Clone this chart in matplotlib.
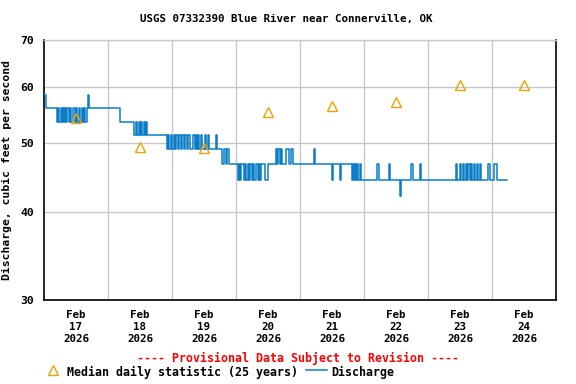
import matplotlib
matplotlib.use("Agg")
import matplotlib.pyplot as plt
from matplotlib.lines import Line2D
from matplotlib.ticker import FixedLocator, NullFormatter

# 数据：小时数（自 2026-02-17 00:00 起）与流量（cfs），阶梯式
hours = [
    0, 0.75, 5.0, 5.25, 5.75, 6.25, 6.75, 7.0, 7.5, 8.0, 8.25, 8.75, 9.5, 9.75,
    10.0, 11.0, 11.5, 12.0, 12.5, 13.0, 13.5, 14.25, 14.5, 15.0, 15.5, 16.0,
    16.5, 17.0, 28.5,
    33.75, 34.5, 35.0, 35.5, 36.0, 36.5, 36.75, 37.5, 38.0, 38.25, 38.75,
    46.0, 46.5, 47.0, 47.5, 48.0, 48.75, 49.0, 49.5, 50.25, 50.5, 51.5, 51.75,
    52.5, 52.75, 53.5, 54.0, 54.75, 55.75, 56.5, 57.0, 57.25, 57.75, 58.0,
    58.75, 59.25, 60.25, 60.75, 61.5, 61.75,
    64.5, 65.0, 66.75, 67.5, 68.25, 68.5, 69.25,
    72.75, 73.0, 73.5, 73.75, 75.0, 75.25, 75.75, 76.5, 76.75, 77.25, 78.0,
    78.25, 78.75, 79.5, 80.25, 80.5, 81.0, 81.25, 82.75, 84.0,
    87.0, 87.5, 87.75, 88.5, 88.75, 89.25, 90.75, 91.75, 92.5, 93.25,
    101.25, 101.5, 108.0, 108.25, 111.0, 111.5,
    115.5, 115.75, 116.25, 116.5, 117.0, 117.25, 117.75, 118.5, 119.0,
    125.0, 125.5, 129.25, 129.75, 133.5, 133.75, 137.75, 138.25, 141.0, 141.5,
    154.5, 155.0, 156.0, 156.5, 157.25, 157.5, 158.25, 158.75, 159.0, 159.75,
    160.25, 160.5, 161.25, 161.75, 162.5, 162.75, 163.5, 164.0,
    166.5, 167.25, 168.75, 169.75, 173.5,
]
discharge = [
    58.6, 56.0, 53.6, 56.0, 53.6, 56.0, 53.6, 56.0, 53.6, 56.0, 53.6, 56.0, 53.6, 56.0,
    53.6, 56.0, 53.6, 56.0, 53.6, 56.0, 53.6, 56.0, 53.6, 56.0, 53.6, 56.0,
    58.6, 56.0, 53.6,
    51.4, 53.6, 51.4, 53.6, 51.4, 53.6, 51.4, 53.6, 51.4, 53.6, 51.4,
    49.1, 51.4, 49.1, 51.4, 49.1, 51.4, 49.1, 51.4, 49.1, 51.4, 49.1, 51.4,
    49.1, 51.4, 49.1, 51.4, 49.1, 51.4, 49.1, 51.4, 49.1, 51.4, 49.1,
    51.4, 49.1, 51.4, 49.1, 51.4, 49.1,
    51.4, 49.1, 46.7, 49.1, 46.7, 49.1, 46.7,
    44.3, 46.7, 44.3, 46.7, 44.3, 46.7, 44.3, 46.7, 44.3, 46.7, 44.3,
    46.7, 44.3, 46.7, 44.3, 46.7, 44.3, 46.7, 44.3, 46.7,
    49.1, 46.7, 49.1, 46.7, 49.1, 46.7, 49.1, 46.7, 49.1, 46.7,
    49.1, 46.7, 44.3, 46.7, 44.3, 46.7,
    44.3, 46.7, 44.3, 46.7, 44.3, 46.7, 44.3, 46.7, 44.3,
    46.7, 44.3, 46.7, 44.3, 42.1, 44.3, 46.7, 44.3, 46.7, 44.3,
    46.7, 44.3, 46.7, 44.3, 46.7, 44.3, 46.7, 44.3, 46.7, 44.3,
    46.7, 44.3, 46.7, 44.3, 46.7, 44.3, 46.7, 44.3,
    46.7, 44.3, 46.7, 44.3, 44.3,
]

# 每日中位数（25 年），画在每天中午
median_hours = [12, 36, 60, 84, 108, 132, 156, 180]
median_vals = [54.2, 49.4, 49.2, 55.4, 56.4, 57.2, 60.4, 60.4]

day_labels = ["Feb\n17\n2026", "Feb\n18\n2026", "Feb\n19\n2026", "Feb\n20\n2026",
              "Feb\n21\n2026", "Feb\n22\n2026", "Feb\n23\n2026", "Feb\n24\n2026"]
y_ticks = [30, 40, 50, 60, 70]

FONT = "DejaVu Sans Mono"
BLUE = "#0a7dc8"
ORANGE = "#f5a000"
GRID = "#c8c8c8"

fig = plt.figure(figsize=(5.76, 3.84), dpi=100)
ax = fig.add_axes([44 / 576, 1 - 300 / 384, 512 / 576, 260 / 384])

ax.plot(hours, discharge, drawstyle="steps-post", color=BLUE, lw=1.1, zorder=3)
ax.plot(median_hours, median_vals, linestyle="none", marker="^", markersize=7.5,
        markerfacecolor="none", markeredgecolor=ORANGE, markeredgewidth=1.0, zorder=4)

ax.set_yscale("log")
ax.set_ylim(30, 70)
ax.set_xlim(0, 192)

ax.yaxis.set_major_locator(FixedLocator(y_ticks))
ax.yaxis.set_minor_locator(FixedLocator([]))
ax.yaxis.set_minor_formatter(NullFormatter())
ax.set_yticklabels([str(v) for v in y_ticks], fontfamily=FONT, fontweight="bold", fontsize=8.2)

ax.set_xticks(median_hours)
ax.set_xticklabels(day_labels, fontfamily=FONT, fontweight="bold", fontsize=7.8, linespacing=1.25)
ax.set_xticks([24 * k for k in range(1, 8)], minor=True)

ax.tick_params(axis="both", which="both", length=0)
ax.tick_params(axis="y", pad=7)
ax.tick_params(axis="x", pad=7)

ax.grid(True, which="minor", axis="x", color=GRID, lw=1.0)
ax.grid(True, which="major", axis="y", color=GRID, lw=1.0)

for side in ["left", "bottom", "right"]:
    ax.spines[side].set_color("black")
    ax.spines[side].set_linewidth(1.2)
ax.spines["top"].set_color(GRID)
ax.spines["top"].set_linewidth(1.0)

ax.set_ylabel("Discharge, cubic feet per second", fontfamily=FONT, fontweight="bold",
              fontsize=8.2)
ax.yaxis.set_label_coords(-32 / 512, (300 - 170) / 260)

fig.text(286 / 576, 1 - 19 / 384, "USGS 07332390 Blue River near Connerville, OK",
         ha="center", va="center", fontfamily=FONT, fontweight="bold", fontsize=7.8)

fig.text(298 / 576, 1 - 358 / 384, "---- Provisional Data Subject to Revision ----",
         ha="center", va="center", color="red", fontfamily=FONT, fontweight="bold", fontsize=8.4)

# 图例（手动放置）
ly = 1 - 372 / 384
fig.add_artist(Line2D([53 / 576], [ly + 0.004], marker="^", markersize=7.5, linestyle="none",
                      markerfacecolor="none", markeredgecolor=ORANGE, markeredgewidth=1.0))
fig.text(67 / 576, ly, "Median daily statistic (25 years)", ha="left", va="center",
         fontfamily=FONT, fontweight="bold", fontsize=8.4)
fig.add_artist(Line2D([306 / 576, 327 / 576], [ly + 0.004, ly + 0.004], color=BLUE, lw=1.1))
fig.text(331 / 576, ly, "Discharge", ha="left", va="center",
         fontfamily=FONT, fontweight="bold", fontsize=8.4)

fig.savefig("out.png", dpi=100)
